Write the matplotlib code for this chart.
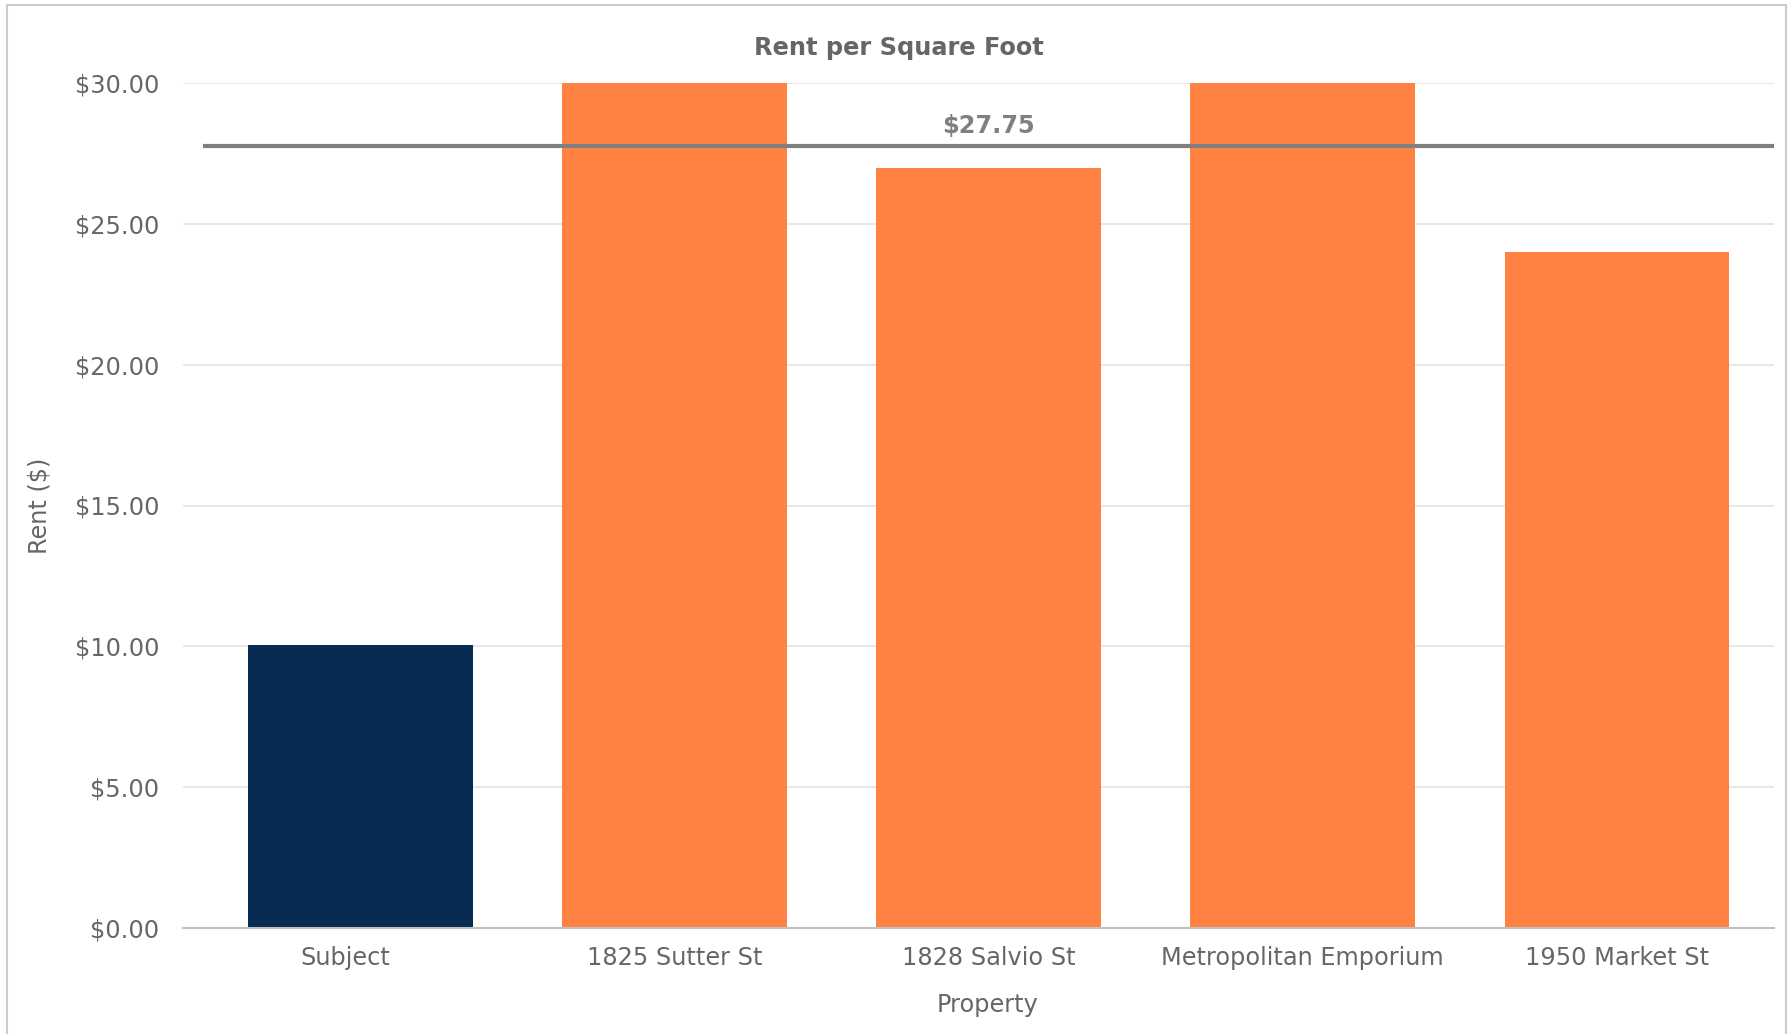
import matplotlib
matplotlib.use("Agg")
import matplotlib.pyplot as plt
from matplotlib.patches import Rectangle
from matplotlib.ticker import FuncFormatter
from matplotlib.transforms import ScaledTranslation

categories = ["Subject", "1825 Sutter St", "1828 Salvio St", "Metropolitan Emporium", "1950 Market St"]
rents = [10.05, 30.0, 27.0, 30.0, 24.0]
bar_colors = ["#072B52", "#FF8243", "#FF8243", "#FF8243", "#FF8243"]
average_rent = 27.75
yticks = [0, 5, 10, 15, 20, 25, 30]

W, H = 1789, 1034
FS = 17.3
fig = plt.figure(figsize=(W / 100, H / 100), dpi=100)
fig.patch.set_facecolor("white")

# outer border
fig.patches.append(Rectangle((7 / W, -0.01), (1786 - 7) / W, 1 - 5 / H + 0.01,
                             transform=fig.transFigure, fill=False,
                             edgecolor="#CCCCCC", linewidth=1.5))

left, right = 183 / W, 1774 / W
bottom, top = 1 - 928 / H, 1 - 83 / H
ax = fig.add_axes([left, bottom, right - left, top - bottom])

x = list(range(len(categories)))
ax.bar(x, rents, width=0.715, color=bar_colors, zorder=2)
ax.set_xlim(-0.564, 4.5)
ax.set_ylim(0, 30)

ax.hlines(average_rent, -0.5, 4.5, color="#808080", linewidth=3, zorder=3)
ax.text(2, average_rent + 0.28, f"${average_rent:.2f}", ha="center", va="bottom",
        fontsize=FS, fontweight="bold", color="#808080", zorder=4)

ax.set_yticks(yticks)
ax.yaxis.set_major_formatter(FuncFormatter(lambda v, p: f"${v:.2f}"))
ax.set_xticks(x)
ax.set_xticklabels(categories)
ax.grid(axis="y", color="#E3E3E3", linewidth=1.2, zorder=0)
ax.set_axisbelow(True)
for s in ["top", "right", "left"]:
    ax.spines[s].set_visible(False)
ax.spines["bottom"].set_color("#C0C0C0")
ax.spines["bottom"].set_linewidth(1.5)
ax.spines["bottom"].set_zorder(5)
ax.tick_params(axis="both", length=0, labelsize=FS, labelcolor="#666666")
ax.tick_params(axis="y", pad=17)
ax.tick_params(axis="x", pad=13)

# first category label sits slightly left of its bar in the reference
lbl0 = ax.get_xticklabels()[0]
lbl0.set_transform(lbl0.get_transform() + ScaledTranslation(-15 / 100, 0, fig.dpi_scale_trans))

fig.text(899 / W, 1 - 48 / H, "Rent per Square Foot", ha="center", va="center",
         fontsize=FS, fontweight="bold", color="#666666")
fig.text(988 / W, 1 - 1005 / H, "Property", ha="center", va="center",
         fontsize=FS, color="#666666")
fig.text(40 / W, 0.5 * (bottom + top), "Rent ($)", ha="center", va="center", rotation=90,
         fontsize=FS, color="#666666")

fig.savefig("out.png", dpi=100)
